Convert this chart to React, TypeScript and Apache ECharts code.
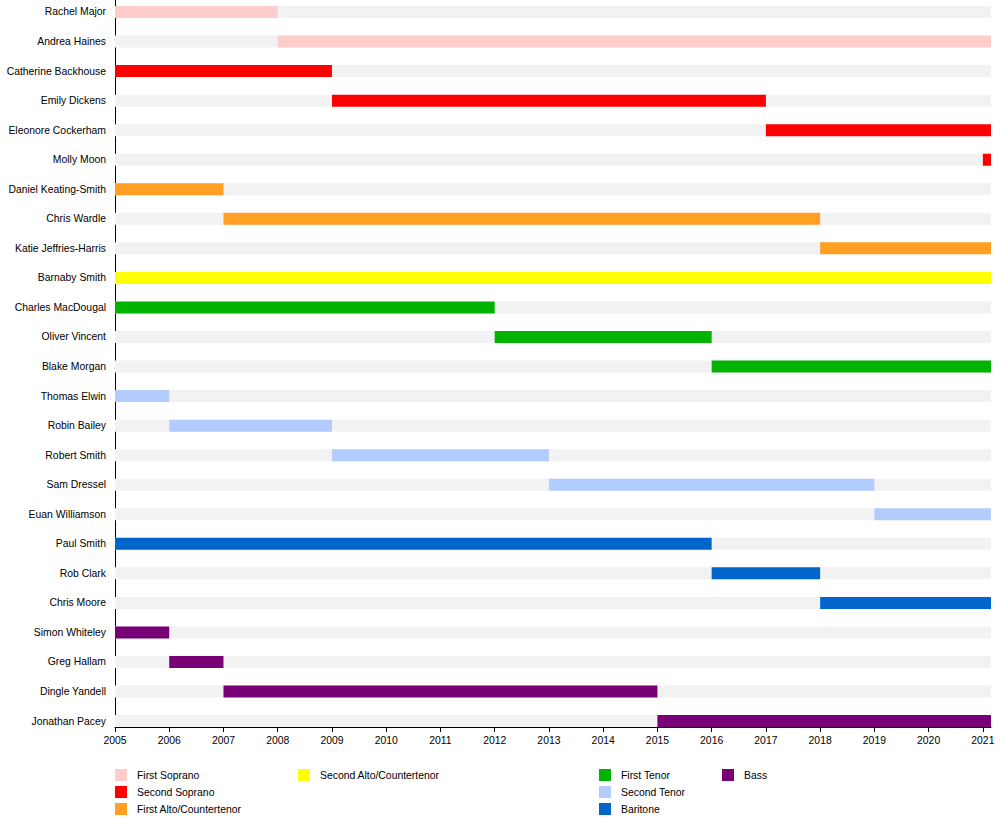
import React, { useEffect, useRef } from "react";
import * as echarts from "echarts";

const partNames = [
  "First Soprano",
  "Second Soprano",
  "First Alto/Countertenor",
  "Second Alto/Countertenor",
  "First Tenor",
  "Second Tenor",
  "Baritone",
  "Bass",
];
const partColors = ["#ffcccc", "#ff0000", "#ff9f24", "#ffff00", "#00b300", "#b3ccff", "#0066cc", "#770077"];

const names = [
  "Rachel Major",
  "Andrea Haines",
  "Catherine Backhouse",
  "Emily Dickens",
  "Eleonore Cockerham",
  "Molly Moon",
  "Daniel Keating-Smith",
  "Chris Wardle",
  "Katie Jeffries-Harris",
  "Barnaby Smith",
  "Charles MacDougal",
  "Oliver Vincent",
  "Blake Morgan",
  "Thomas Elwin",
  "Robin Bailey",
  "Robert Smith",
  "Sam Dressel",
  "Euan Williamson",
  "Paul Smith",
  "Rob Clark",
  "Chris Moore",
  "Simon Whiteley",
  "Greg Hallam",
  "Dingle Yandell",
  "Jonathan Pacey",
];
const parts = [0, 0, 1, 1, 1, 1, 2, 2, 2, 3, 4, 4, 4, 5, 5, 5, 5, 5, 6, 6, 6, 7, 7, 7, 7];
const starts = [2005, 2008, 2005, 2009, 2017, 2021, 2005, 2007, 2018, 2005, 2005, 2012, 2016, 2005, 2006, 2009, 2013, 2019, 2005, 2016, 2018, 2005, 2006, 2007, 2015];
const ends = [2008, 2021.15, 2009, 2017, 2021.15, 2021.15, 2007, 2018, 2021.15, 2021.15, 2012, 2016, 2021.15, 2006, 2009, 2013, 2019, 2021.15, 2016, 2018, 2021.15, 2006, 2007, 2015, 2021.15];
const years = [2005, 2006, 2007, 2008, 2009, 2010, 2011, 2012, 2013, 2014, 2015, 2016, 2017, 2018, 2019, 2020, 2021];
const xMin = 2005;
const xMax = 2021.15;

const FONT = "'Liberation Sans', Arial, sans-serif";
const FS = 10.4;

function renderBar(params: any, api: any) {
  const s = api.coord([api.value(0), api.value(2)]);
  const e = api.coord([api.value(1), api.value(2)]);
  const h = 12;
  return {
    type: "rect",
    shape: { x: s[0], y: s[1] - h / 2, width: e[0] - s[0], height: h },
    style: { fill: api.visual("color") },
  };
}

export default function App() {
  const ref = useRef<HTMLDivElement>(null);
  useEffect(() => {
    document.body.style.margin = "0";
    const chart = echarts.init(ref.current!, null, { renderer: "svg" });
    const rowIdx = names.map((_, i) => i);
    const bg = {
      type: "custom",
      name: "bg",
      silent: true,
      renderItem: renderBar,
      itemStyle: { color: "#f2f2f2" },
      encode: { x: [0, 1], y: 2 },
      data: rowIdx.map((i) => [xMin, xMax, i]),
      z: 1,
    };
    const partSeries = partNames.map((p, pi) => ({
      type: "custom",
      name: p,
      renderItem: renderBar,
      itemStyle: { color: partColors[pi] },
      encode: { x: [0, 1], y: 2 },
      data: rowIdx.filter((i) => parts[i] === pi).map((i) => [starts[i], ends[i], i]),
      z: 2,
    }));
    const legendBase = {
      orient: "vertical",
      padding: 0,
      itemWidth: 12,
      itemHeight: 12,
      itemGap: 5,
      icon: "rect",
      top: 769,
      selectedMode: false,
      textStyle: { fontFamily: FONT, fontSize: FS, color: "#000", padding: [0, 0, 0, 5] },
    };
    chart.setOption({
      animation: false,
      textStyle: { fontFamily: FONT },
      grid: { left: 115, right: 9, top: 0, height: 727 },
      xAxis: {
        type: "value",
        min: xMin,
        max: xMax,
        interval: 1,
        splitLine: { show: false },
        axisLine: { show: true, onZero: false, lineStyle: { color: "#000", width: 1 } },
        axisTick: { show: true, length: 5, lineStyle: { color: "#000" }, customValues: years },
        axisLabel: { fontSize: FS, color: "#000", fontFamily: FONT, margin: 8, customValues: years, formatter: (v: number) => String(v) },
      },
      yAxis: {
        type: "value",
        inverse: true,
        min: -0.406,
        max: 24.2,
        splitLine: { show: false },
        axisLine: { show: true, onZero: false, lineStyle: { color: "#000", width: 1 } },
        axisTick: { show: false },
        axisLabel: {
          fontSize: FS,
          color: "#000",
          fontFamily: FONT,
          margin: 9,
          customValues: rowIdx,
          formatter: (v: number) => names[Math.round(v)] ?? "",
        },
      },
      legend: [
        { ...legendBase, left: 115, data: partNames.slice(0, 3) },
        { ...legendBase, left: 298, data: [partNames[3]] },
        { ...legendBase, left: 599, data: partNames.slice(4, 7) },
        { ...legendBase, left: 722, data: [partNames[7]] },
      ],
      series: [bg, ...partSeries],
    });
    return () => chart.dispose();
  }, []);
  return <div ref={ref} style={{ width: 1000, height: 822 }} />;
}
